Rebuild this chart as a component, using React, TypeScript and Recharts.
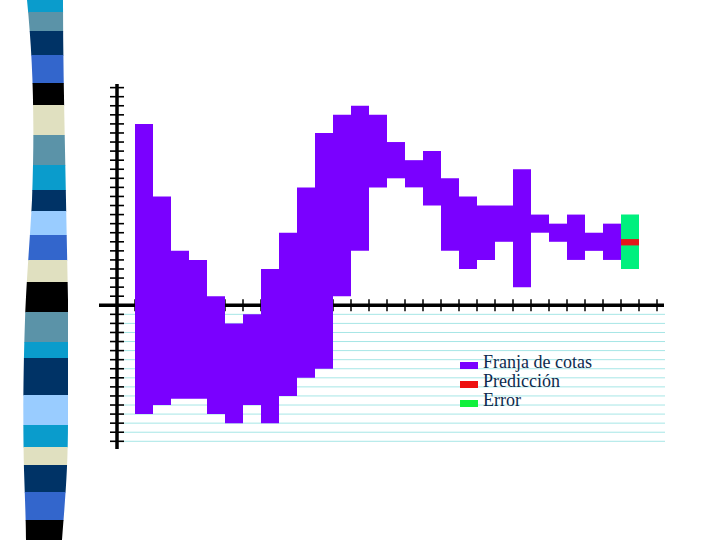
import React from 'react';
import { BarChart, Bar, XAxis, YAxis, CartesianGrid, ReferenceLine, Legend } from 'recharts';

// ---- data ----
const slots = [
  's0', 's1', 's2', 's3', 's4', 's5', 's6', 's7', 's8', 's9',
  's10', 's11', 's12', 's13', 's14', 's15', 's16', 's17', 's18', 's19',
  's20', 's21', 's22', 's23', 's24', 's25', 's26', 's27', 's28', 's29',
];
const franjaLow: (number | null)[] = [
  null, -12, -11, -10.3, -10.3, -12, -13, -11, -13, -10,
  -8, -7, 1, 6, 13, 14, 13, 11, 6, 4,
  5, 7, 2, 8, 7, 5, 6, 5, null, null,
];
const franjaHigh: (number | null)[] = [
  null, 20, 12, 6, 5, 1, -2, -1, 4, 8,
  13, 19, 21, 22, 21, 18, 16, 17, 14, 12,
  11, 11, 15, 10, 9, 10, 8, 9, null, null,
];
const errorLow: (number | null)[] = [
  null, null, null, null, null, null, null, null, null, null,
  null, null, null, null, null, null, null, null, null, null,
  null, null, null, null, null, null, null, null, 4, null,
];
const errorHigh: (number | null)[] = [
  null, null, null, null, null, null, null, null, null, null,
  null, null, null, null, null, null, null, null, null, null,
  null, null, null, null, null, null, null, null, 10, null,
];
const predLow: (number | null)[] = [
  null, null, null, null, null, null, null, null, null, null,
  null, null, null, null, null, null, null, null, null, null,
  null, null, null, null, null, null, null, null, 6.6, null,
];
const predHigh: (number | null)[] = [
  null, null, null, null, null, null, null, null, null, null,
  null, null, null, null, null, null, null, null, null, null,
  null, null, null, null, null, null, null, null, 7.3, null,
];
const yTicks = [
  -15, -14, -13, -12, -11, -10, -9, -8, -7, -6, -5, -4, -3, -2, -1,
  0, 1, 2, 3, 4, 5, 6, 7, 8, 9, 10, 11, 12, 13, 14, 15, 16, 17, 18, 19, 20, 21, 22, 23, 24,
];
const gridValues = [-1, -2, -3, -4, -5, -6, -7, -8, -9, -10, -11, -12, -13, -14, -15];
const tickSlots = slots.slice(1);
const legendNames = ['Franja de cotas', 'Predicción', 'Error'];
const legendColors = ['#7a00ff', '#ee1111', '#11f03c'];

const pair = (lo: number | null, hi: number | null) => (lo === null || hi === null ? null : [lo, hi]);
const data = slots.map((s, i) => ({
  slot: s,
  franja: pair(franjaLow[i], franjaHigh[i]),
  error: pair(errorLow[i], errorHigh[i]),
  pred: pair(predLow[i], predHigh[i]),
}));

// ---- decoration (slide side strip) ----
const stripeEdges = [0, 12, 31, 55, 83, 105, 135, 165, 190, 211, 235, 260, 282, 312, 342, 358, 395, 425, 447, 465, 492, 520, 540];
const stripeColors = [
  '#0a9ccc', '#5b93a8', '#003366', '#3366cc', '#000000', '#e0e0c0', '#5b93a8', '#0a9ccc',
  '#003366', '#99ccff', '#3366cc', '#e0e0c0', '#000000', '#5b93a8', '#0a9ccc', '#003366',
  '#99ccff', '#0a9ccc', '#e0e0c0', '#003366', '#3366cc', '#000000',
];

const Strip = () => (
  <svg width={90} height={540} style={{ position: 'absolute', left: 0, top: 0 }}>
    <defs>
      <clipPath id="stripClip">
        <path d="M27,0 C33,60 35,120 32,200 C30,240 27,270 25,320 C23,380 23,430 24,470 C25,500 26,525 26,540 L62,540 C65,500 68,470 68,420 C68,360 68,320 68,300 C67,250 66,200 65,150 C64,100 63,50 63,0 Z" />
      </clipPath>
    </defs>
    <g clipPath="url(#stripClip)">
      {stripeColors.map((c, i) => (
        <rect key={i} x={0} y={stripeEdges[i]} width={90} height={stripeEdges[i + 1] - stripeEdges[i] + 0.5} fill={c} />
      ))}
    </g>
  </svg>
);

const YTick = (props: any) => (
  <line x1={props.x - 7} x2={props.x + 7} y1={props.y} y2={props.y} stroke="#000" strokeWidth={1.6} />
);

const ZeroLine = (p: any) => (
  <line x1={p.x1 - 18} x2={p.x2 + 7} y1={p.y1} y2={p.y2} stroke="#000" strokeWidth={3.5} />
);

const GridLine = (p: any) => (
  <line key={p.key} x1={p.x1 + 6} x2={p.x2 + 8} y1={p.y1} y2={p.y2} stroke="#a6e6e6" strokeWidth={1} />
);

const LegendBox = () => (
  <div
    style={{
      fontFamily: '"Liberation Serif", "Times New Roman", serif',
      fontSize: 18,
      color: '#0d2a4d',
      lineHeight: '19px',
      whiteSpace: 'nowrap',
    }}
  >
    {legendNames.map((n, i) => (
      <div key={n} style={{ display: 'flex', alignItems: 'flex-start', height: 19 }}>
        <span
          style={{
            display: 'inline-block',
            width: 18,
            height: 7,
            marginTop: 8.5,
            marginRight: 5,
            background: legendColors[i],
          }}
        />
        <span>{n}</span>
      </div>
    ))}
  </div>
);

export default function App() {
  return (
    <div style={{ position: 'absolute', left: 0, top: 0, width: 720, height: 540, background: '#fff', overflow: 'hidden' }}>
      <Strip />
      <div style={{ position: 'absolute', left: 0, top: 0 }}>
        <BarChart
          width={720}
          height={540}
          data={data}
          margin={{ top: 84, right: 63, bottom: 91, left: 107 }}
          barCategoryGap={0}
          barGap={0}
        >
          <CartesianGrid horizontal={GridLine} vertical={false} horizontalValues={gridValues} stroke="#a6e6e6" strokeWidth={1} />
          <XAxis xAxisId="a" dataKey="slot" type="category" hide />
          <XAxis xAxisId="b" dataKey="slot" type="category" hide />
          <XAxis xAxisId="c" dataKey="slot" type="category" hide />
          <YAxis
            type="number"
            domain={[-15.85, 24.4]}
            ticks={yTicks}
            allowDataOverflow
            width={10}
            axisLine={{ stroke: '#000', strokeWidth: 3.5 }}
            tickLine={false}
            tickSize={0}
            tickMargin={0}
            tick={YTick}
            interval={0}
          />
          <ReferenceLine xAxisId="a" y={0} shape={ZeroLine} zIndex={-10} />
          {tickSlots.map((s) => (
            <ReferenceLine
              key={s}
              xAxisId="a"
              position="start"
              segment={[{ x: s, y: -0.65 }, { x: s, y: 0.65 }]}
              stroke="#000"
              strokeWidth={1.5}
              zIndex={-10}
            />
          ))}
          <ReferenceLine
            xAxisId="a"
            position="end"
            segment={[{ x: 's29', y: -0.65 }, { x: 's29', y: 0.65 }]}
            stroke="#000"
            strokeWidth={1.5}
            zIndex={-10}
          />
          <Bar xAxisId="a" dataKey="franja" name="Franja de cotas" fill="#7a00ff" isAnimationActive={false} />
          <Bar xAxisId="b" dataKey="error" name="Error" fill="#00f07e" isAnimationActive={false} />
          <Bar xAxisId="c" dataKey="pred" name="Predicción" fill="#e4161a" isAnimationActive={false} />
          <Legend
            layout="vertical"
            align="center"
            verticalAlign="middle"
            content={LegendBox}
            wrapperStyle={{ left: 460, top: 353, width: 'auto', height: 'auto' }}
          />
        </BarChart>
      </div>
    </div>
  );
}
